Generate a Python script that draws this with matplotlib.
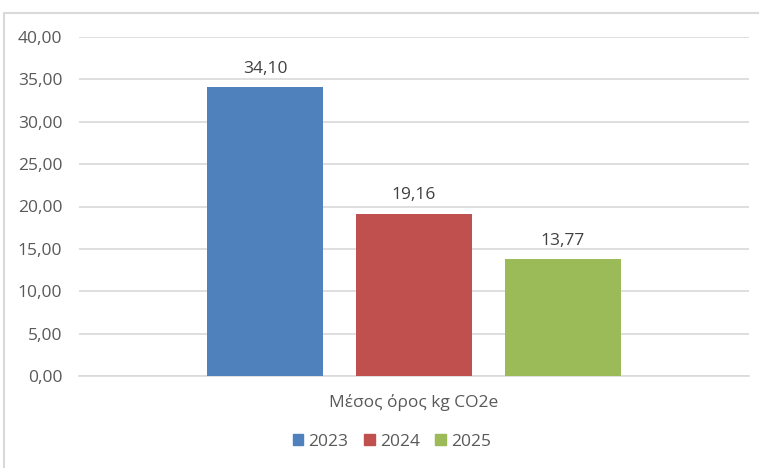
import matplotlib.pyplot as plt
from matplotlib.patches import Rectangle

# data
years = ['2023', '2024', '2025']
values = [34.10, 19.16, 13.77]
colors = ['#4F81BD', '#C0504D', '#9BBB59']
category = 'Μέσος όρος kg CO2e'

plt.rcParams['font.family'] = ['Open Sans', 'DejaVu Sans']

W, H = 759, 468
fig = plt.figure(figsize=(W / 100, H / 100), dpi=100)
ax = fig.add_axes([79 / W, 1 - 376 / H, 670 / W, 339 / H])

# outer chart border (clipped at right/bottom like the screenshot)
fig.patches.append(Rectangle((3.5 / W, -0.1), 1.2, 1.1 - 13.5 / H,
                             transform=fig.transFigure, fill=False,
                             edgecolor='#D9D9D9', linewidth=1.5, zorder=0))

pos = [-1, 0, 1]
bars = ax.bar(pos, values, width=116 / 149, color=colors, zorder=3)
for b, v in zip(bars, values):
    ax.text(b.get_x() + b.get_width() / 2, v + 1.2, f'{v:.2f}'.replace('.', ','),
            ha='center', va='bottom', fontsize=12.5, color='#404040')

ax.set_xlim(-335 / 149, 335 / 149)
ax.set_ylim(0, 40)
ax.set_yticks(range(0, 41, 5))
ax.set_yticklabels([f'{t:.2f}'.replace('.', ',') for t in range(0, 41, 5)])
ax.tick_params(axis='y', length=0, pad=12, labelsize=12.5, labelcolor='#595959')
ax.set_xticks([0])
ax.set_xticklabels([category])
ax.tick_params(axis='x', length=0, pad=13, labelsize=12.5, labelcolor='#595959')
ax.grid(axis='y', color='#D9D9D9', linewidth=1.2, zorder=0)
for s in ['top', 'right', 'left']:
    ax.spines[s].set_visible(False)
ax.spines['bottom'].set_color('#D9D9D9')
ax.spines['bottom'].set_linewidth(1.2)

handles = [Rectangle((0, 0), 1, 1, color=c) for c in colors]
fig.legend(handles, years, loc='center', bbox_to_anchor=(392 / W, 1 - 442 / H),
           ncol=3, frameon=False, fontsize=12.5, labelcolor='#595959',
           handlelength=0.6, handleheight=0.6, handletextpad=0.3, columnspacing=0.9)

fig.savefig('out.png', dpi=100)
